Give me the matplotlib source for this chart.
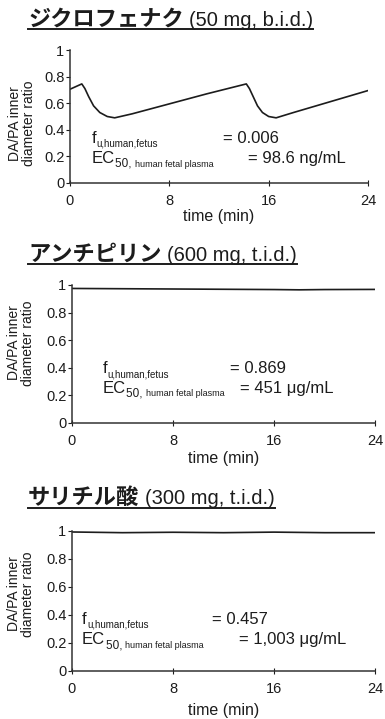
import matplotlib
matplotlib.use('Agg')
import matplotlib.pyplot as plt
from matplotlib.lines import Line2D

plt.rcParams['font.family'] = ['Liberation Sans', 'Noto Sans CJK JP']
ink = '#1c1c1c'

# --- data ---
# diclofenac (50 mg, b.i.d.)
time_diclo = [0, 0.95, 1.2, 1.5, 1.9, 2.4, 3.0, 3.6, 5, 8, 11, 14.2,
              14.45, 14.75, 15.1, 15.5, 16.0, 16.6, 18, 20, 22, 24]
ratio_diclo = [0.705, 0.745, 0.71, 0.65, 0.58, 0.53, 0.50, 0.49, 0.52, 0.595, 0.67, 0.745,
               0.71, 0.65, 0.58, 0.53, 0.50, 0.49, 0.53, 0.585, 0.64, 0.695]
# antipyrine (600 mg, t.i.d.)
time_anti = [0, 4, 8, 12, 16, 18, 20, 24]
ratio_anti = [0.975, 0.973, 0.971, 0.969, 0.967, 0.965, 0.967, 0.968]
# salicylic acid (300 mg, t.i.d.)
time_sali = [0, 4, 8, 12, 16, 20, 24]
ratio_sali = [0.993, 0.988, 0.991, 0.988, 0.992, 0.988, 0.988]

titles_jp = ['ジクロフェナク', 'アンチピリン', 'サリチル酸']
titles_dose = ['(50 mg, b.i.d.)', '(600 mg, t.i.d.)', '(300 mg, t.i.d.)']
fu_values = ['= 0.006', '= 0.869', '= 0.457']
ec50_values = ['= 98.6 ng/mL', '= 451 \u03bcg/mL', '= 1,003 \u03bcg/mL']

xticks = [0, 8, 16, 24]
yticks = [0, 0.2, 0.4, 0.6, 0.8, 1]
ytick_labels = ['0', '0.2', '0.4', '0.6', '0.8', '1']

W, H = 385, 719
fig = plt.figure(figsize=(W / 100, H / 100), dpi=100)

# pixel layout of each panel: left, right, top(y=1), bottom(y=0)
boxes = [(70, 368, 50, 183), (72, 375, 285, 423), (72, 375, 531, 671)]
title_base = [26, 261, 504]
title_line = [29, 264, 508]
xlabel_pos = [-0.25, -0.26, -0.28]
ylabel_pos = [(-0.162, 0.45), (-0.168, 0.58), (-0.168, 0.55)]
# annotation positions (data coords): f-line x,y ; "=" x for f ; EC line y ; "=" x for EC
annot = [(1.75, 0.30, 12.3, 0.15, 14.3),
         (2.4, 0.36, 12.5, 0.22, 13.3),
         (0.8, 0.335, 11.1, 0.19, 13.2)]

series = [(time_diclo, ratio_diclo), (time_anti, ratio_anti), (time_sali, ratio_sali)]

title_parts = []
for i in range(3):
    l, r, t, b = boxes[i]
    ax = fig.add_axes([l / W, 1 - b / H, (r - l) / W, (b - t) / H])
    ax.plot(series[i][0], series[i][1], color=ink, lw=1.2)
    ax.set_xlim(0, 24)
    ax.set_ylim(0, 1)
    for s in ['top', 'right']:
        ax.spines[s].set_visible(False)
    for s in ['left', 'bottom']:
        ax.spines[s].set_color('#333333')
        ax.spines[s].set_linewidth(1.1)
    ax.set_xticks(xticks)
    ax.set_yticks(yticks)
    ax.set_yticklabels(ytick_labels)
    ax.tick_params(axis='y', direction='out', length=3, pad=1, labelsize=10.5, colors=ink)
    ax.tick_params(axis='x', direction='inout', length=4, pad=6, labelsize=10.5, colors=ink)
    ax.set_xlabel('time (min)', fontsize=11.5, color=ink, va='center')
    ax.xaxis.set_label_coords(0.5, xlabel_pos[i])
    ax.set_ylabel('DA/PA inner\ndiameter ratio', fontsize=10, color=ink, va='center', linespacing=1.0)
    ax.yaxis.set_label_coords(*ylabel_pos[i])

    # f_u and EC50 text with subscripts
    fx, fy, feq, ecy, eceq = annot[i]
    t1 = ax.text(fx, fy, 'f', fontsize=12, color=ink, va='baseline')
    ax.annotate('u,human,fetus', xy=(1, 0), xycoords=t1, xytext=(0.3, -0.5),
                textcoords='offset points', fontsize=7, color=ink, va='baseline')
    ax.text(feq, fy, fu_values[i], fontsize=12, color=ink, va='baseline')
    t2 = ax.text(fx, ecy, 'EC', fontsize=12, color=ink, va='baseline')
    t3 = ax.annotate('50, ', xy=(1, 0), xycoords=t2, xytext=(0.3, -0.5),
                     textcoords='offset points', fontsize=8.5, color=ink, va='baseline')
    ax.annotate('human fetal plasma', xy=(1, 0), xycoords=t3, xytext=(0, 2.2),
                textcoords='offset points', fontsize=6.5, color=ink, va='baseline')
    ax.text(eceq, ecy, ec50_values[i], fontsize=12, color=ink, va='baseline')

    # title: Japanese drug name + dose, underlined
    yb = 1 - title_base[i] / H
    jp = fig.text(28 / W, yb, titles_jp[i], fontsize=16, fontweight='bold',
                  family='Noto Sans CJK JP', color=ink, va='baseline')
    dose = ax.annotate(titles_dose[i], xy=(1, yb), xycoords=(jp, fig.transFigure),
                       xytext=(4, 0), textcoords='offset points', annotation_clip=False,
                       fontsize=14.5, color=ink, va='baseline')
    title_parts.append((jp, dose))

fig.canvas.draw()
renderer = fig.canvas.get_renderer()
for i, (jp, dose) in enumerate(title_parts):
    x0 = jp.get_window_extent(renderer).x0
    x1 = dose.get_window_extent(renderer).x1
    y = 1 - title_line[i] / H
    fig.add_artist(Line2D([x0 / W, x1 / W], [y, y], transform=fig.transFigure,
                          color=ink, lw=1.4))

fig.savefig('out.png', dpi=100)
